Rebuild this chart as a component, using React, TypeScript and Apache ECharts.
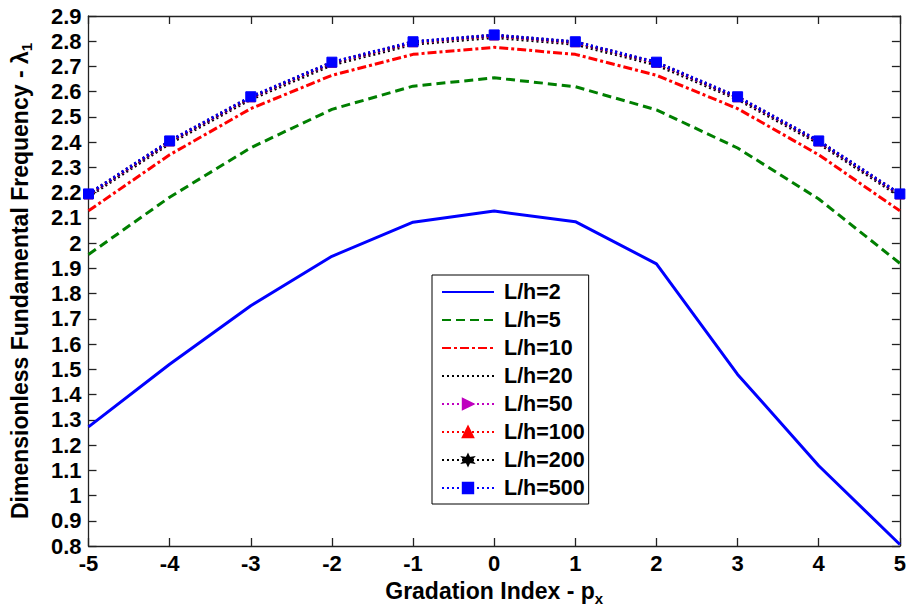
import React, { useEffect, useRef } from "react";
import * as echarts from "echarts";

const xValues = [-5, -4, -3, -2, -1, 0, 1, 2, 3, 4, 5];
const lh2 = [1.272, 1.52, 1.752, 1.948, 2.083, 2.127, 2.085, 1.918, 1.48, 1.118, 0.806];
const lh5 = [1.955, 2.182, 2.378, 2.53, 2.622, 2.655, 2.62, 2.528, 2.377, 2.175, 1.92];
const lh10 = [2.128, 2.35, 2.533, 2.665, 2.748, 2.776, 2.748, 2.665, 2.533, 2.35, 2.128];
const lh20 = [2.185, 2.395, 2.57, 2.706, 2.788, 2.815, 2.788, 2.706, 2.57, 2.395, 2.185];
const lh50 = [2.191, 2.401, 2.576, 2.713, 2.794, 2.821, 2.794, 2.713, 2.576, 2.401, 2.191];
const lh100 = [2.193, 2.403, 2.578, 2.715, 2.796, 2.823, 2.796, 2.715, 2.578, 2.403, 2.193];
const lh200 = [2.194, 2.404, 2.579, 2.716, 2.797, 2.824, 2.797, 2.716, 2.579, 2.404, 2.194];
const lh500 = [2.195, 2.405, 2.58, 2.717, 2.798, 2.825, 2.798, 2.717, 2.58, 2.405, 2.195];

const seriesNames = ["L/h=2", "L/h=5", "L/h=10", "L/h=20", "L/h=50", "L/h=100", "L/h=200", "L/h=500"];
const FONT = "Liberation Sans, Arial, Helvetica, sans-serif";
const STAR = "path://M0,-10 L2.4,-4 L8.7,-5 L4.8,0 L8.7,5 L2.4,4 L0,10 L-2.4,4 L-8.7,5 L-4.8,0 L-8.7,-5 L-2.4,-4 Z";

const pairs = (ys: number[]) => xValues.map((x, i) => [x, ys[i]]);

export default function App() {
  const ref = useRef<HTMLDivElement>(null);
  useEffect(() => {
    if (!ref.current) return;
    const chart = echarts.init(ref.current, null, { renderer: "svg" });
    const axisLine = { show: true, onZero: false, lineStyle: { color: "#222", width: 1.3 } };
    const tick = { show: true, inside: true, length: 8, lineStyle: { color: "#222", width: 1.3 } };
    const labelStyle = { color: "#000", fontFamily: FONT, fontWeight: "bold" as const, fontSize: 22 };
    const mk = (
      name: string,
      data: number[],
      color: string,
      type: any,
      width: number,
      symbol: string | null,
      symbolSize = 8,
      symbolRotate = 0
    ) => ({
      name,
      type: "line",
      data: pairs(data),
      lineStyle: { color, type, width },
      itemStyle: symbol
        ? { color, borderColor: color, borderWidth: 1 }
        : { color: "rgba(0,0,0,0)", borderColor: "rgba(0,0,0,0)" },
      symbol: symbol || "none",
      showSymbol: !!symbol,
      symbolSize,
      symbolRotate,
      smooth: false,
      z: 2,
    });
    chart.setOption({
      animation: false,
      backgroundColor: "#fff",
      grid: { left: 82, right: 2, top: 16, bottom: 64, containLabel: false },
      xAxis: [
        {
          type: "value",
          min: -5,
          max: 5,
          interval: 1,
          axisLine,
          axisTick: tick,
          splitLine: { show: false },
          axisLabel: { ...labelStyle, margin: 6 },
          name: "Gradation Index - {n|p}{sub|x}",
          nameLocation: "middle",
          nameGap: 30,
          nameTextStyle: {
            ...labelStyle,
            fontSize: 23,
            rich: {
              n: { ...labelStyle, fontSize: 23 },
              sub: { ...labelStyle, fontSize: 15, padding: [15, 0, 0, 0] },
            },
          },
        },
        {
          type: "value",
          position: "top",
          min: -5,
          max: 5,
          interval: 1,
          axisLine,
          axisTick: tick,
          splitLine: { show: false },
          axisLabel: { show: false },
        },
      ],
      yAxis: [
        {
          type: "value",
          min: 0.8,
          max: 2.9,
          interval: 0.1,
          axisLine,
          axisTick: tick,
          splitLine: { show: false },
          axisLabel: { ...labelStyle, margin: 7 },
          name: "Dimensionless Fundamental Frequency - {n|λ}{sub|1}",
          nameLocation: "middle",
          nameGap: 55,
          nameTextStyle: {
            ...labelStyle,
            fontSize: 23,
            rich: {
              n: { ...labelStyle, fontSize: 23 },
              sub: { ...labelStyle, fontSize: 15, padding: [13, 0, 0, 0] },
            },
          },
        },
        {
          type: "value",
          position: "right",
          min: 0.8,
          max: 2.9,
          interval: 0.1,
          axisLine,
          axisTick: tick,
          splitLine: { show: false },
          axisLabel: { show: false },
        },
      ],
      legend: {
        orient: "vertical",
        left: 432,
        top: 275,
        data: seriesNames,
        itemWidth: 52,
        itemHeight: 13,
        itemGap: 6,
        padding: [6, 4, 5, 9],
        borderColor: "#000",
        borderWidth: 1,
        backgroundColor: "#fff",
        borderRadius: 0,
        textStyle: { ...labelStyle, fontSize: 21.5, lineHeight: 22, padding: [0, 0, 0, 5] },
      },
      series: [
        mk("L/h=2", lh2, "#0000ff", "solid", 3, null),
        mk("L/h=5", lh5, "#007f00", [9, 5], 3, null),
        mk("L/h=10", lh10, "#ff0000", [9, 3, 3, 3], 3, null),
        mk("L/h=20", lh20, "#000000", [2, 3], 3, null),
        mk("L/h=50", lh50, "#bf00bf", [2, 3], 3, "triangle", 7, -90),
        mk("L/h=100", lh100, "#ff0000", [2, 3], 3, "triangle", 9),
        mk("L/h=200", lh200, "#000000", [2, 3], 3, STAR, 8),
        mk("L/h=500", lh500, "#0000ff", [2, 3], 3, "rect", 10),
      ],
    });
    return () => chart.dispose();
  }, []);
  return <div ref={ref} style={{ width: 909, height: 611, position: "absolute", left: 0, top: 0 }} />;
}
